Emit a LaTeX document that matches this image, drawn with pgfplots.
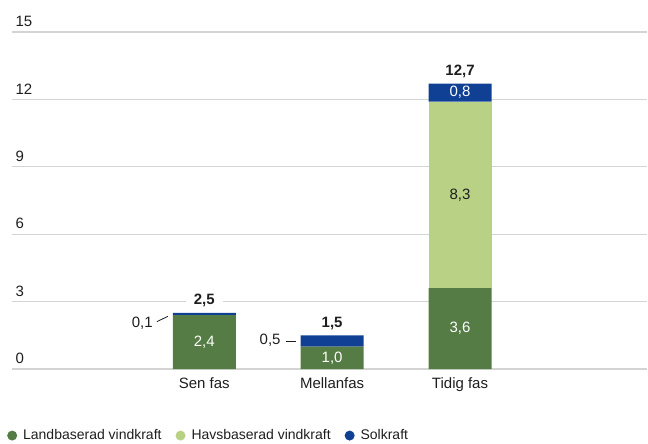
\documentclass[border=0pt]{standalone}
\usepackage{fontspec}
\setmainfont{Liberation Sans}
\usepackage{pgfplots}
\pgfplotsset{compat=1.18}
\definecolor{land}{RGB}{84,124,68}
\definecolor{hav}{RGB}{185,209,133}
\definecolor{sol}{RGB}{16,64,148}
\definecolor{gridgray}{RGB}{212,212,212}
\definecolor{txt}{RGB}{30,30,30}

\begin{document}
\begin{tikzpicture}[font=\fontsize{15bp}{18bp}\selectfont,
  tot/.style={anchor=south, yshift=4.5bp, fill=white, inner xsep=8bp, inner ysep=1bp, text=txt,
    font=\fontsize{15bp}{18bp}\selectfont\bfseries}]
\begin{axis}[
  name=ax,
  scale only axis, width=636bp, height=337.5bp,
  xmin=-1.504, xmax=3.465, ymin=0, ymax=15,
  ybar stacked, bar width=63bp,
  xtick={0,1,2}, xticklabels={Sen fas,Mellanfas,Tidig fas},
  ytick={0,3,...,15},
  axis line style={draw=none}, major tick length=0pt,
  ymajorgrids, grid style={gridgray, line width=1.3bp},
  /pgf/number format/assume math mode=true,
  yticklabel style={anchor=south west, yshift=1.7bp, text=txt},
  xticklabel style={yshift=-5bp, text=txt},
  legend columns=3,
  legend style={draw=none, fill=none, at={(0,0)}, anchor=west,
    yshift=-66.5bp, xshift=-5bp, inner sep=0pt,
    font=\fontsize{14bp}{16bp}\selectfont, text=txt,
    /tikz/every even column/.append style={column sep=12bp}},
  legend image code/.code={\fill[#1,draw=none] (0bp,0bp) circle (5bp); \path (9bp,0bp);},
]
\addplot[fill=land, draw=none] coordinates {(0,2.4) (1,1.0) (2,3.6)};
\addlegendentry{Landbaserad vindkraft}
\addplot[fill=hav, draw=none] coordinates {(0,0) (1,0) (2,8.3)};
\addlegendentry{Havsbaserad vindkraft}
\addplot[fill=sol, draw=none] coordinates {(0,0.1) (1,0.5) (2,0.8)};
\addlegendentry{Solkraft}

% anchor points for the labels, drawn after the axis so they sit on top of the bars
\coordinate (v1) at (axis cs:0,1.2);
\coordinate (v2) at (axis cs:1,0.5);
\coordinate (v3) at (axis cs:2,1.8);
\coordinate (v4) at (axis cs:2,7.75);
\coordinate (v5) at (axis cs:2,12.3);
\coordinate (t1) at (axis cs:0,2.5);
\coordinate (t2) at (axis cs:1,1.5);
\coordinate (t3) at (axis cs:2,12.7);
\coordinate (s1) at (axis cs:-0.402,2.02);
\coordinate (s1a) at (axis cs:-0.371,2.11);
\coordinate (s1b) at (axis cs:-0.285,2.35);
\coordinate (s2) at (axis cs:0.598,1.27);
\coordinate (s2a) at (axis cs:0.637,1.25);
\coordinate (s2b) at (axis cs:0.715,1.25);
\end{axis}

\node[text=white] at (v1) {2,4};
\node[text=white] at (v2) {1,0};
\node[text=white] at (v3) {3,6};
\node[text=txt] at (v4) {8,3};
\node[text=white] at (v5) {0,8};

\node[tot] at (t1) {2,5};
\node[tot] at (t2) {1,5};
\node[tot] at (t3) {12,7};

\node[anchor=east, inner sep=0pt, text=txt] at (s1) {0,1};
\draw[txt, line width=0.8bp] (s1a) -- (s1b);
\node[anchor=east, inner sep=0pt, text=txt] at (s2) {0,5};
\draw[txt, line width=0.8bp] (s2a) -- (s2b);

\path ([xshift=-12bp,yshift=-74.5bp]ax.south west) rectangle ([yshift=32bp]ax.north east);
\end{tikzpicture}
\end{document}
